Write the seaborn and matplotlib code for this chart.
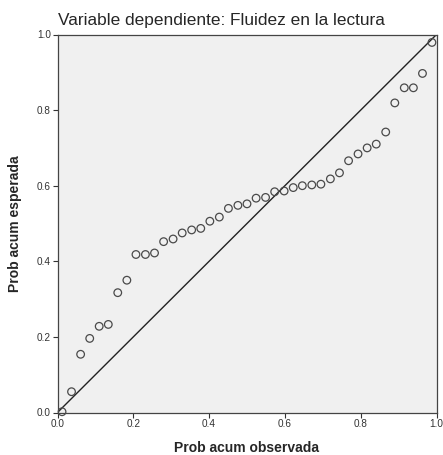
import numpy as np
import pandas as pd
import seaborn as sns
import matplotlib.pyplot as plt

prob_obs = [0.012, 0.037, 0.061, 0.085, 0.110, 0.134, 0.159, 0.183, 0.207, 0.232,
            0.256, 0.280, 0.305, 0.329, 0.354, 0.378, 0.402, 0.427, 0.451, 0.476,
            0.500, 0.524, 0.549, 0.573, 0.598, 0.622, 0.646, 0.671, 0.695, 0.720,
            0.744, 0.768, 0.793, 0.817, 0.841, 0.866, 0.890, 0.915, 0.939, 0.963,
            0.988]
prob_esp = [0.002, 0.055, 0.154, 0.196, 0.228, 0.233, 0.317, 0.350, 0.418, 0.418,
            0.422, 0.452, 0.459, 0.475, 0.483, 0.487, 0.506, 0.517, 0.540, 0.548,
            0.552, 0.567, 0.569, 0.584, 0.586, 0.595, 0.600, 0.602, 0.604, 0.618,
            0.634, 0.666, 0.684, 0.700, 0.710, 0.742, 0.819, 0.859, 0.859, 0.897,
            0.979]
ticks = [0.0, 0.2, 0.4, 0.6, 0.8, 1.0]

df = pd.DataFrame({"obs": prob_obs, "esp": prob_esp})

sns.set_style("ticks")
plt.rcParams["font.family"] = ["Liberation Sans", "DejaVu Sans"]

W, H = 443, 455
fig = plt.figure(figsize=(W / 100, H / 100), dpi=100)
ax = fig.add_axes([57.5 / W, 1 - 412.5 / H, 379 / W, 378 / H])
ax.set_facecolor("#f0f0f0")

ax.axline((0, 0), (1, 1), color="#222222", linewidth=1.0, zorder=2)
sns.scatterplot(data=df, x="obs", y="esp", ax=ax, marker="o", s=30,
                facecolor="none", edgecolor="#4a4a4a", linewidth=0.9,
                zorder=3, clip_on=False)

ax.set_xlim(0, 1)
ax.set_ylim(0, 1)
ax.set_xticks(ticks)
ax.set_yticks(ticks)
ax.set_xticklabels([f"{t:.1f}" for t in ticks])
ax.set_yticklabels([f"{t:.1f}" for t in ticks])
ax.tick_params(length=3.8, width=0.8, color="#333333", labelsize=7.2,
               labelcolor="#333333", pad=1)
for s in ax.spines.values():
    s.set_visible(True)
    s.set_color("#444444")
    s.set_linewidth(0.9)
ax.set_xlabel("")
ax.set_ylabel("")

fig.text(247 / W, 1 - 452 / H, "Prob acum observada", fontsize=10,
         fontweight="bold", ha="center", va="baseline")
fig.text(15 / W, 1 - 224 / H, "Prob acum esperada", fontsize=10,
         fontweight="bold", ha="center", va="center", rotation=90)
fig.text(221 / W, 1 - 25 / H, "Variable dependiente: Fluidez en la lectura",
         fontsize=12.4, fontweight="medium", ha="center", va="baseline")

fig.savefig("out.png", dpi=100)
